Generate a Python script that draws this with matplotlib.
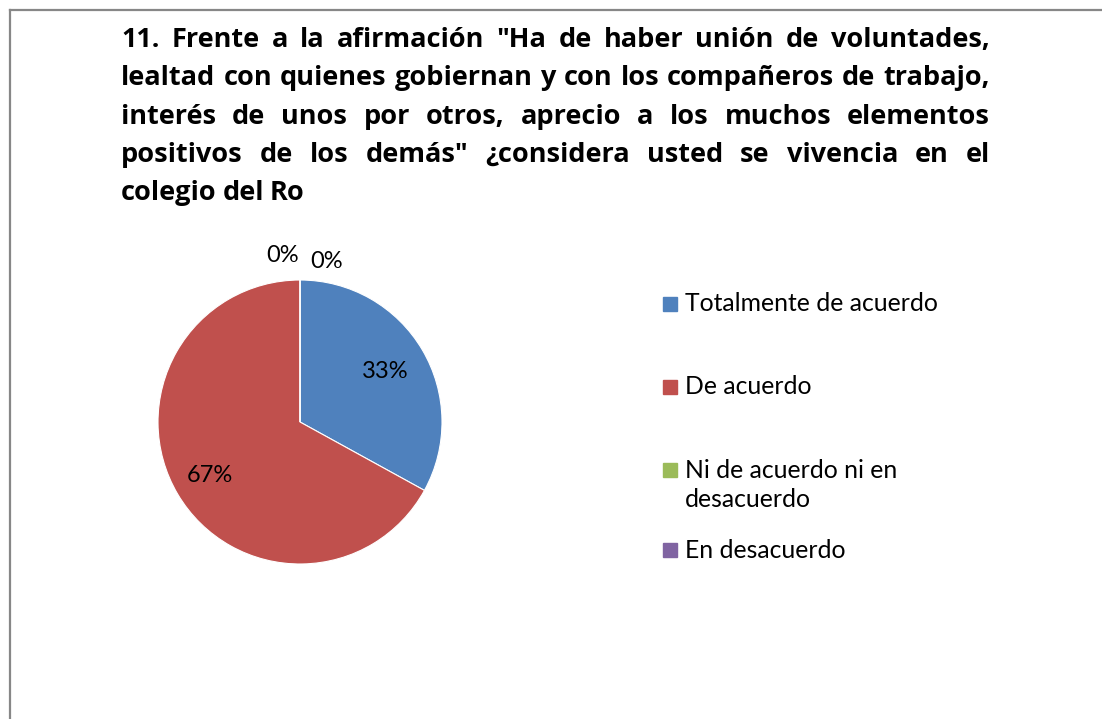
import numpy as np
import matplotlib

matplotlib.use("Agg")
import matplotlib.pyplot as plt  # noqa: E402
from matplotlib.lines import Line2D  # noqa: E402
from matplotlib.patches import Rectangle  # noqa: E402

plt.rcParams.update({"font.family": ["Lato", "DejaVu Sans"]})

W, H = 1102, 719
TITLE_LINES = [
    '11. Frente a la afirmación "Ha de haber unión de voluntades,',
    "lealtad con quienes gobiernan y con los compañeros de trabajo,",
    "interés de unos por otros, aprecio a los muchos elementos",
    'positivos de los demás" ¿considera usted se vivencia en el',
    "colegio del Ro",
]
CATEGORIES = ["Totalmente de acuerdo", "De acuerdo",
              "Ni de acuerdo ni en\ndesacuerdo", "En desacuerdo"]
VALUES = [33, 67, 0, 0]
COLORS = ["#4F81BD", "#C0504D", "#9BBB59", "#8064A2"]


def px(x, y):
    """pixel (from top-left) -> figure fraction"""
    return x / W, 1 - y / H


fig = plt.figure(figsize=(W / 100, H / 100), dpi=100)
fig.patch.set_facecolor("white")

# frame (left + top border of the chart area)
fig.add_artist(Line2D([10 / W, 10 / W], [0, 1 - 10 / H], transform=fig.transFigure,
                      color="#878787", lw=1.6))
fig.add_artist(Line2D([10 / W, 1], [1 - 10 / H, 1 - 10 / H], transform=fig.transFigure,
                      color="#878787", lw=1.6))

# justified bold title
renderer = fig.canvas.get_renderer()
left, right = 121, 990
for i, line in enumerate(TITLE_LINES):
    base = 47 + i * 38.3
    words = line.split(" ")
    texts = [fig.text(0, 0, w, fontsize=19.5, fontweight="bold", va="baseline", ha="left",
                      family="Open Sans") for w in words]
    widths = [t.get_window_extent(renderer).width for t in texts]
    if i == len(TITLE_LINES) - 1:
        gap = 6
    else:
        gap = (right - left - sum(widths)) / (len(words) - 1)
    x = left
    for t, w in zip(texts, widths):
        t.set_position(px(x, base))
        x += w + gap

# pie
cx, cy, R = 300, 422, 142
ax = fig.add_axes([(cx - 200) / W, (H - cy - 200) / H, 400 / W, 400 / H])
wedges, _ = ax.pie(VALUES, colors=COLORS, radius=R, startangle=90, counterclock=False,
                   wedgeprops=dict(edgecolor="white", linewidth=0.8))
ax.set_xlim(-200, 200)
ax.set_ylim(-200, 200)
ax.set_aspect("equal")
ax.axis("off")
for k, (wd, v) in enumerate(zip(wedges, VALUES)):
    mid = np.deg2rad((wd.theta1 + wd.theta2) / 2)
    if v > 0:
        d = 0.70 * R if k == 0 else 0.74 * R
        ax.text(d * np.cos(mid), d * np.sin(mid), f"{v}%", ha="center", va="center",
                fontsize=17)
    else:
        offs = {2: (-17, 166), 3: (27, 160)}[k]
        ax.text(offs[0], offs[1], f"{v}%", ha="center", va="center", fontsize=17)

# legend
rows = [304, 387, 485, 550]
for lab, col, y in zip(CATEGORIES, COLORS, rows):
    n = lab.count("\n")
    fig.add_artist(Rectangle(px(663, y - n * 15.5 + 7), 14 / W, 14 / H,
                             transform=fig.transFigure, color=col))
    fig.text(*px(685, y), lab, fontsize=17.8, va="center", ha="left", linespacing=1.3)

fig.savefig("out.png", dpi=100)
